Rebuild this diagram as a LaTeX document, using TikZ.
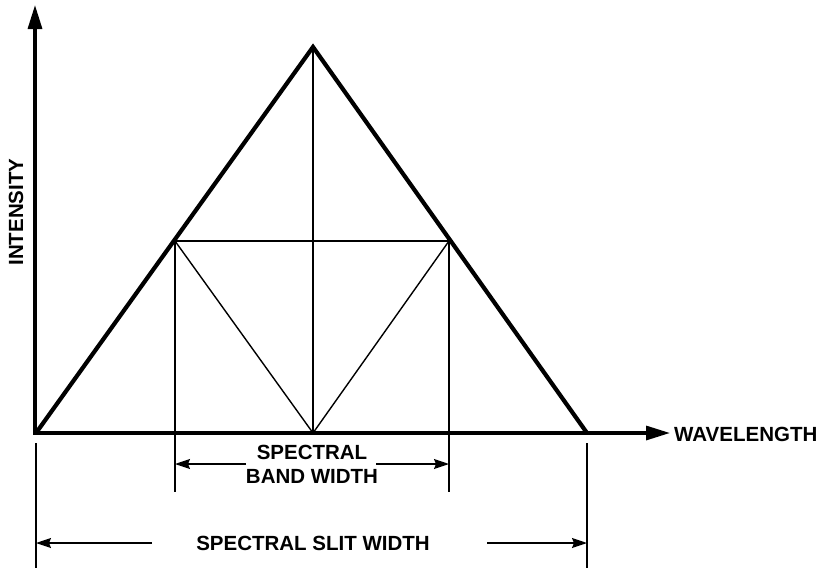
\documentclass[tikz,border=0pt]{standalone}
\usepackage{fontspec}
\setmainfont{Liberation Sans}
\usetikzlibrary{arrows.meta}
\begin{document}
\begin{tikzpicture}[x=1pt,y=-1pt,
  axisline/.style={line width=3.2pt},
  triline/.style={line width=4.2pt,line join=miter},
  thinline/.style={line width=1.4pt},
  dimline/.style={line width=1.4pt},
  lbl/.style={font=\fontsize{20.5}{24}\selectfont\bfseries,inner sep=0pt,align=center},
  bigtip/.style={-{Triangle[length=24pt,width=14pt]}},
  smalltip/.style={-{Stealth[length=15pt,width=10pt,inset=2pt]}}
]
\useasboundingbox (0,0) rectangle (827,571);
% key points
\coordinate (O) at (36,433);
\coordinate (A) at (313,47);
\coordinate (R) at (587,433);
\coordinate (HL) at (175,241);
\coordinate (HR) at (449,241);
\coordinate (M) at (313,433);
\coordinate (Ytop) at (35,5);
\coordinate (Xend) at (670,433);
\coordinate (HLd) at (175,492);
\coordinate (HRd) at (449,492);
\coordinate (Ot) at (36,443);
\coordinate (Ob) at (36,568);
\coordinate (Rt) at (587,443);
\coordinate (Rb) at (587,568);
\coordinate (BL) at (175,464);
\coordinate (BLe) at (246,464);
\coordinate (BR) at (449,464);
\coordinate (BRe) at (376,464);
\coordinate (SL) at (36,543);
\coordinate (SLe) at (152,543);
\coordinate (SR) at (587,543);
\coordinate (SRe) at (487,543);
% thin inner lines
\draw[thinline] (A) -- (M);
\draw[thinline] (HL) -- (HR);
\draw[thinline] (HL) -- (M) -- (HR);
\draw[thinline] (HL) -- (HLd);
\draw[thinline] (HR) -- (HRd);
\draw[thinline] (Ot) -- (Ob);
\draw[thinline] (Rt) -- (Rb);
% axes
\draw[axisline,bigtip] (35,434.5) -- (Ytop);
\draw[axisline,bigtip] (O) -- (Xend);
% triangle
\draw[triline] (O) -- (A) -- (R);
% dimension arrows
\draw[dimline,smalltip] (BLe) -- (BL);
\draw[dimline,smalltip] (BRe) -- (BR);
\draw[dimline,smalltip] (SLe) -- (SL);
\draw[dimline,smalltip] (SRe) -- (SR);
% labels
\node[lbl] (band) at (312,464) {SPECTRAL\\BAND WIDTH};
\node[lbl] (slit) at (313,543) {SPECTRAL SLIT WIDTH};
\node[lbl,anchor=west] (wave) at (674,434) {WAVELENGTH};
\node[lbl,rotate=90] (inten) at (16,212) {INTENSITY};
\end{tikzpicture}
\end{document}
